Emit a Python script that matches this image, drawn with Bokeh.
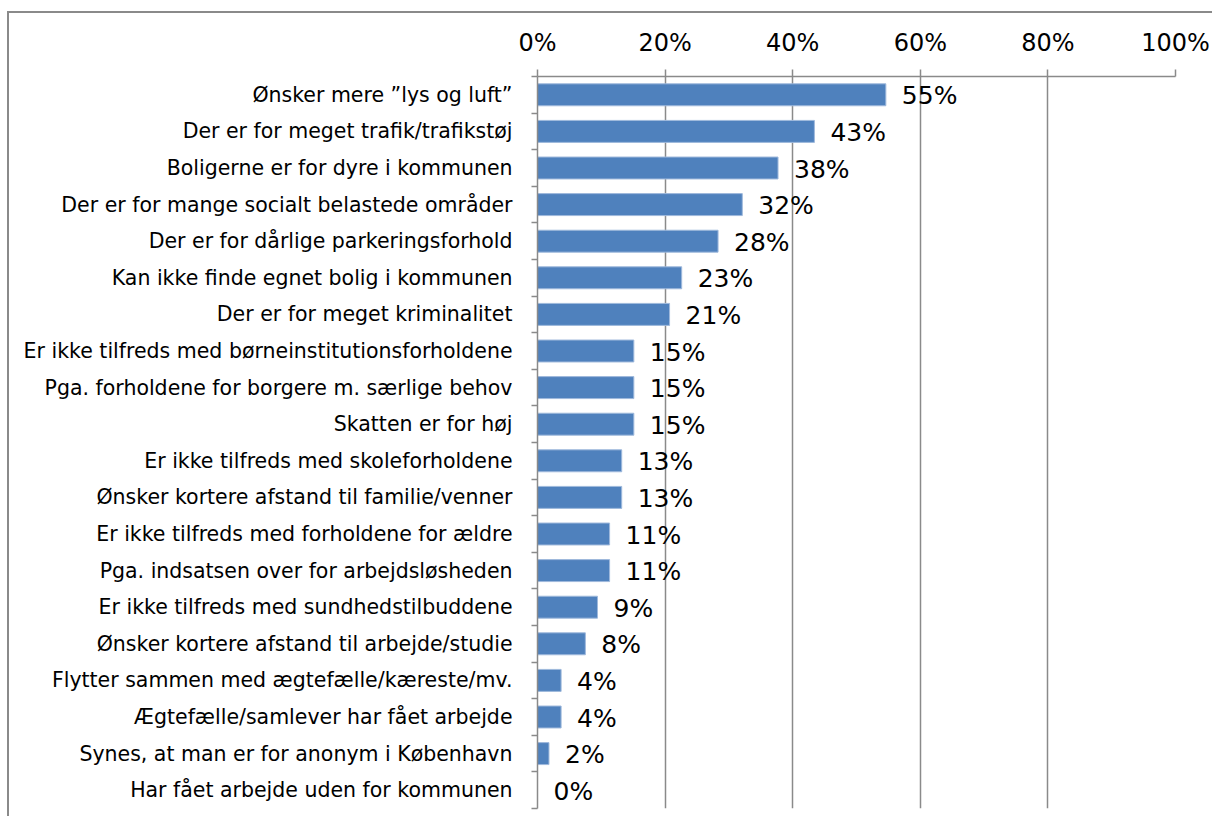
from bokeh.plotting import figure
from bokeh.models import Range1d, FixedTicker, CustomJSTickFormatter, ColumnDataSource
from bokeh.core.properties import value
from bokeh.embed import file_html
from bokeh.resources import INLINE

categories = [
    "Ønsker mere ”lys og luft”",
    "Der er for meget trafik/trafikstøj",
    "Boligerne er for dyre i kommunen",
    "Der er for mange socialt belastede områder",
    "Der er for dårlige parkeringsforhold",
    "Kan ikke finde egnet bolig i kommunen",
    "Der er for meget kriminalitet",
    "Er ikke tilfreds med børneinstitutionsforholdene",
    "Pga. forholdene for borgere m. særlige behov",
    "Skatten er for høj",
    "Er ikke tilfreds med skoleforholdene",
    "Ønsker kortere afstand til familie/venner",
    "Er ikke tilfreds med forholdene for ældre",
    "Pga. indsatsen over for arbejdsløsheden",
    "Er ikke tilfreds med sundhedstilbuddene",
    "Ønsker kortere afstand til arbejde/studie",
    "Flytter sammen med ægtefælle/kæreste/mv.",
    "Ægtefælle/samlever har fået arbejde",
    "Synes, at man er for anonym i København",
    "Har fået arbejde uden for kommunen",
]
values = [54.6, 43.4, 37.7, 32.1, 28.3, 22.6, 20.7, 15.1, 15.1, 15.1,
          13.2, 13.2, 11.3, 11.3, 9.4, 7.5, 3.7, 3.7, 1.8, 0.0]
value_labels = ["55%", "43%", "38%", "32%", "28%", "23%", "21%", "15%", "15%", "15%",
                "13%", "13%", "11%", "11%", "9%", "8%", "4%", "4%", "2%", "0%"]
x_ticks = [0, 20, 40, 60, 80, 100]

n = len(categories)
centers = [i + 0.5 for i in range(n)]
boundaries = [i for i in range(n + 1)]

src = ColumnDataSource(dict(y=centers, v=values, lab=value_labels))

GRAY = "#8a8a8a"
FONT = "DejaVu Sans"

p = figure(width=1205, height=805, output_backend="svg", toolbar_location=None,
           x_range=Range1d(0, 100), y_range=Range1d(n, 0),
           x_axis_location="above", min_border_left=528, min_border_top=63,
           min_border_right=39, min_border_bottom=10)
p.outline_line_color = None
p.background_fill_color = "white"
p.border_fill_color = "white"
p.styles = {"border-top": "2px solid " + GRAY, "border-left": "2px solid " + GRAY,
            "margin-top": "11px", "margin-left": "7px"}

p.hbar(y="y", right="v", left=0, height=0.6, source=src,
       fill_color="#4F81BD", line_color="#9fb9dc", line_width=1)
p.text(x="v", y="y", text="lab", source=src, x_offset=16, y_offset=1,
       text_align="left", text_baseline="middle", text_font=value(FONT),
       text_font_size="25px", text_color="black")

xa = p.xaxis[0]
xa.ticker = FixedTicker(ticks=x_ticks)
xa.formatter = CustomJSTickFormatter(code="return tick.toFixed(0) + '%';")
xa.major_label_text_font = FONT
xa.major_label_text_font_size = "24px"
xa.major_label_text_color = "black"
xa.major_label_standoff = 13
xa.major_tick_out = 7
xa.major_tick_in = 0
xa.minor_tick_line_color = None
xa.axis_line_color = GRAY
xa.axis_line_width = 1.5
xa.major_tick_line_color = GRAY
xa.major_tick_line_width = 1.5

ya = p.yaxis[0]
ya.ticker = FixedTicker(ticks=centers, minor_ticks=boundaries)
ya.formatter = CustomJSTickFormatter(args=dict(names=categories),
                                     code="return names[Math.floor(tick)] || '';")
ya.major_label_text_font = FONT
ya.major_label_text_font_size = "20.5px"
ya.major_label_text_color = "black"
ya.major_label_standoff = 19
ya.major_tick_line_color = None
ya.major_tick_out = 0
ya.major_tick_in = 0
ya.minor_tick_out = 6
ya.minor_tick_in = 0
ya.minor_tick_line_color = GRAY
ya.minor_tick_line_width = 1.5
ya.axis_line_color = GRAY
ya.axis_line_width = 1.5

p.xgrid.ticker = FixedTicker(ticks=x_ticks)
p.xgrid.grid_line_color = GRAY
p.xgrid.grid_line_width = 1.5
p.ygrid.grid_line_color = None

open("out.html", "w").write(file_html(p, INLINE))
